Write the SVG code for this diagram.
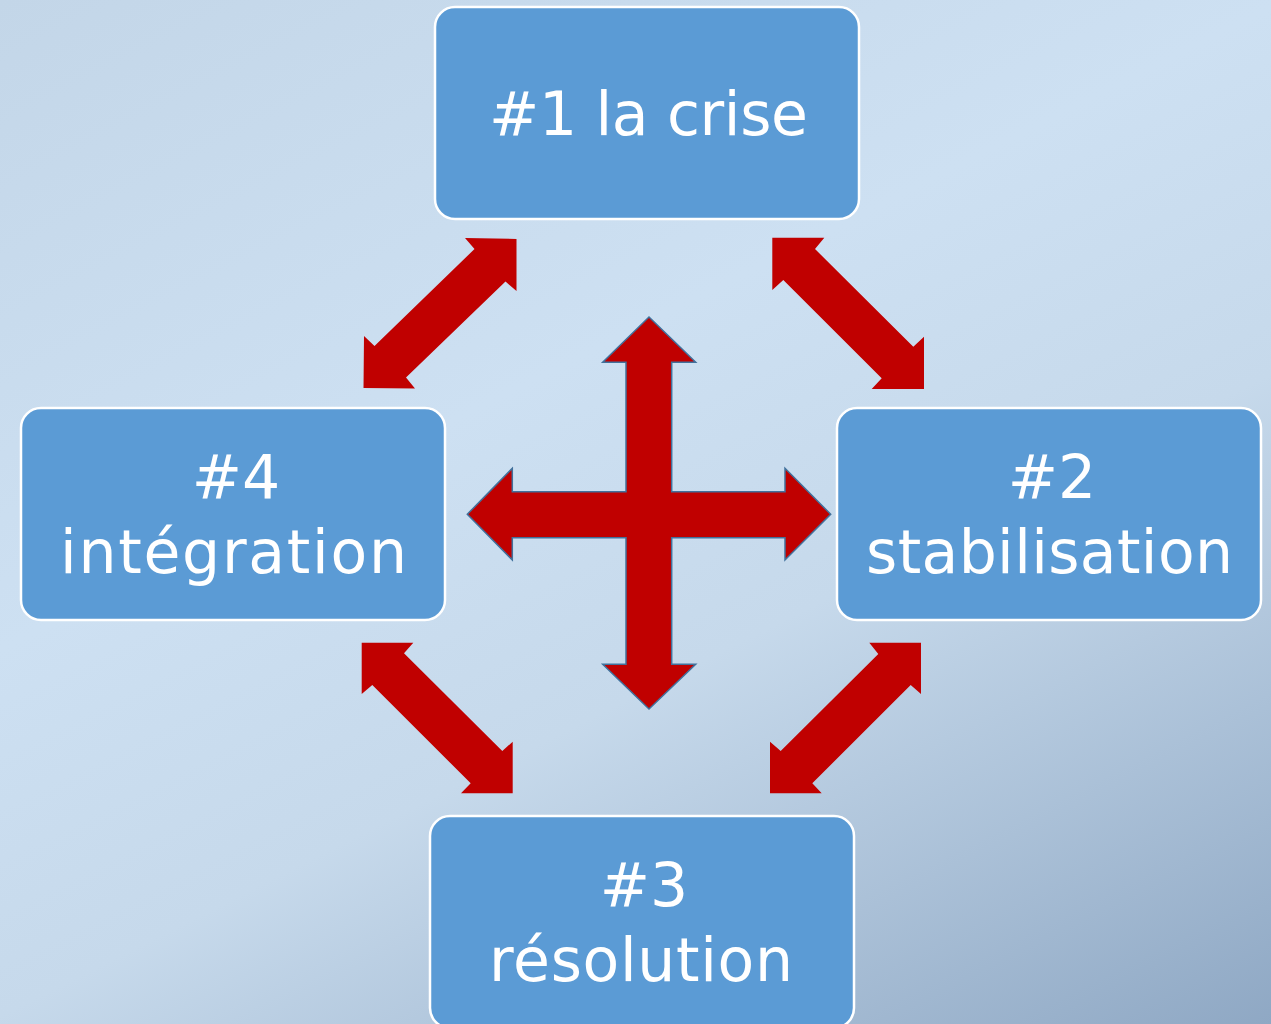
<svg xmlns="http://www.w3.org/2000/svg" width="1271" height="1024" viewBox="0 0 1271 1024">
<defs>
<linearGradient id="bg" gradientUnits="userSpaceOnUse" x1="0" y1="0" x2="671" y2="1327">
<stop offset="0" stop-color="#C3D6E8"/>
<stop offset="0.39" stop-color="#CDE0F2"/>
<stop offset="0.61" stop-color="#C6D9EB"/>
<stop offset="1" stop-color="#8FA8C4"/>
</linearGradient>
<style>
.box{fill:#5B9BD5;stroke:#FFFFFF;stroke-width:2.5}
.lbl{fill:#FFFFFF;font-family:"DejaVu Sans","Liberation Sans",sans-serif;font-size:60px;text-anchor:middle}
.diag{fill:#C00000}
.cross{fill:#C00000;stroke:#41719C;stroke-width:1.5}
</style>
</defs>
<rect x="0" y="0" width="1271" height="1024" fill="url(#bg)"/>
<g id="connectors">
<polygon class="diag" points="516.5,239 516.5,291 505.5,281.5 406,377.5 415,388.5 363.5,388 364,336 374.5,346 474.5,249 465,238"/>
<polygon class="diag" points="772.3,237.7 824.3,237.7 815,249 913.3,346.7 924,336.7 924,389 871.7,389 881.7,378.3 783.3,280 772.3,290"/>
<polygon class="diag" points="361.7,642.7 413.3,642.7 404,653.3 502.3,751 512.7,741.7 512.7,793.3 461,793.3 470.7,783.3 372.3,685 361.7,694"/>
<polygon class="diag" points="921,642.7 921,694 910.7,685 812.3,783.3 821.7,793.3 770,793.3 770,741.7 780.7,751 878.3,654 869.3,642.7"/>
<polygon class="cross" points="649,317 695.7,362.3 671.7,362.3 671.7,491.7 785,491.7 785,468.3 830.7,514.3 785,560 785,537.7 671.7,537.7 671.7,664.3 695.7,664.3 649,709 602.7,664.3 626,664.3 626,537.7 512.3,537.7 512.3,560 467.3,514.3 512.3,468.3 512.3,491.7 626,491.7 626,362.3 602.7,362.3"/>
</g>
<g id="node1">
<rect class="box" x="435" y="7" width="424" height="212" rx="20"/>
<text class="lbl" x="648.5" y="135" textLength="319">#1 la crise</text>
</g>
<g id="node2">
<rect class="box" x="837" y="408" width="424" height="212" rx="20"/>
<text class="lbl" x="1052" y="498">#2</text>
<text class="lbl" x="1049.5" y="573" textLength="367">stabilisation</text>
</g>
<g id="node3">
<rect class="box" x="430" y="816" width="424" height="212" rx="20"/>
<text class="lbl" x="644" y="906">#3</text>
<text class="lbl" x="641" y="981" textLength="304">résolution</text>
</g>
<g id="node4">
<rect class="box" x="21" y="408" width="424" height="212" rx="20"/>
<text class="lbl" x="236" y="498">#4</text>
<text class="lbl" x="233.5" y="573" textLength="347">intégration</text>
</g>
</svg>
